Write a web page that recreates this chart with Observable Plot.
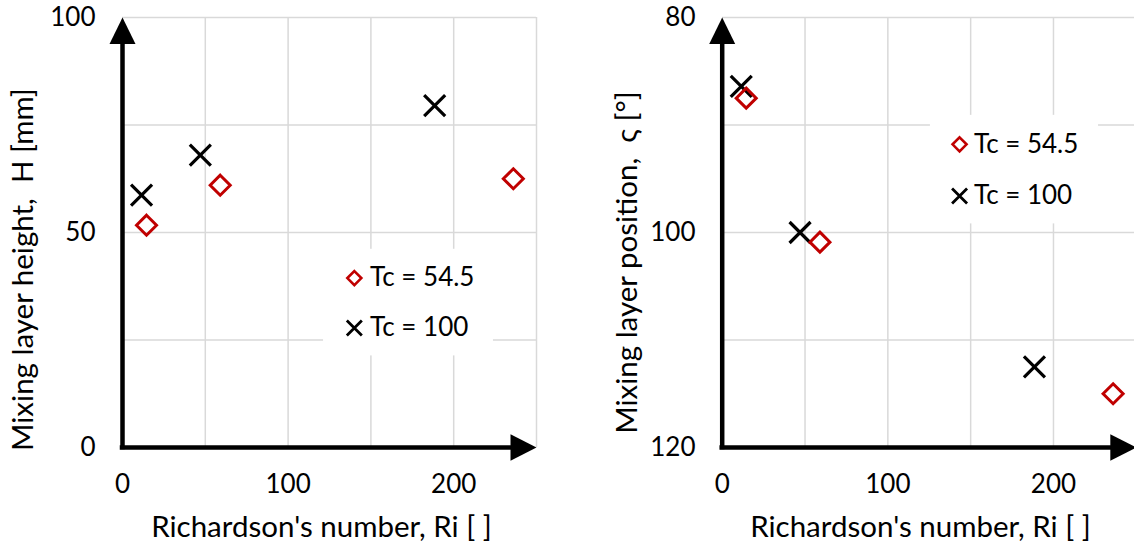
<!DOCTYPE html>
<html>
<head>
<meta charset="utf-8">
<script src="https://cdn.jsdelivr.net/npm/d3@7"></script>
<script src="https://cdn.jsdelivr.net/npm/@observablehq/plot@0.6"></script>
<style>
  html, body { margin: 0; padding: 0; background: white; overflow: hidden; }
  #wrap { display: flex; width: 1134px; height: 547px; }
  #wrap svg { display: block; flex: none; }
</style>
</head>
<body>
<div id="wrap"></div>
<script>
// ---- data ----
const seriesNames = ["Tc = 54.5", "Tc = 100"];
const riTc545 = [14.5, 59, 236];
const riTc100 = [11.5, 47, 188.5];
const heightTc545 = [51.7, 61.0, 62.5];
const heightTc100 = [58.7, 68.0, 79.5];
const positionTc545 = [87.5, 100.9, 115.0];
const positionTc100 = [86.4, 100.0, 112.5];

const xTicks = [0, 100, 200];
const xGrid = [50, 100, 150, 200, 250];
const leftYTicks = [0, 50, 100];
const leftYGrid = [25, 50, 75, 100];
const rightYTicks = [80, 100, 120];
const rightYGrid = [80, 90, 100, 110];

const xTitle = "Richardson's number, Ri [ ]";
const leftYTitle = "Mixing layer height,  H [mm]";
const rightYTitle = "Mixing layer position,  ς [°]";

// ---- styles ----
const RED = "#C00000";
const GRID = "#d9d9d9";
const FONT = "Lato";
const TICK_FS = 26;
const TITLE_FS = 29.5;

// custom symbols
const symDiamond = (h) => ({draw(ctx) { ctx.moveTo(0, -h); ctx.lineTo(h, 0); ctx.lineTo(0, h); ctx.lineTo(-h, 0); ctx.closePath(); }});
const symCross = (h) => ({draw(ctx) { ctx.moveTo(-h, -h); ctx.lineTo(h, h); ctx.moveTo(-h, h); ctx.lineTo(h, -h); }});
const arrowUp = {draw(ctx) { ctx.moveTo(0, 0); ctx.lineTo(13, 26.5); ctx.lineTo(-13, 26.5); ctx.closePath(); }};
const arrowRight = {draw(ctx) { ctx.moveTo(0, 0); ctx.lineTo(-26, -13.3); ctx.lineTo(-26, 13.3); ctx.closePath(); }};

const zip = (xs, ys) => xs.map((x, i) => ({x, y: ys[i]}));

function panel({yDomain, yReverse, yTicks, yGrid, yTop, yShaftEnd, yTitle, yTitleDx, yTitleDy,
                series545, series100, legend, xRange, marginLeft, marginRight}) {
  const yBottom = yDomain[yReverse ? 1 : 0];
  return Plot.plot({
    width: 567,
    height: 547,
    marginLeft, marginRight,
    marginTop: 17,
    marginBottom: 100,
    style: {fontFamily: FONT, fontSize: TICK_FS + "px", color: "black", background: "white", overflow: "hidden"},
    x: {domain: [0, 250], ...(xRange ? {range: xRange} : {})},
    y: {domain: yDomain, reverse: yReverse},
    marks: [
      // gridlines
      Plot.ruleX(xGrid, {stroke: GRID, strokeWidth: 1.5}),
      Plot.ruleY(yGrid, {stroke: GRID, strokeWidth: 1.5}),
      // legend box (covers gridlines)
      Plot.rect([legend.box], {x1: "x1", x2: "x2", y1: "y1", y2: "y2", fill: "white"}),
      // axes tick labels
      Plot.axisX({ticks: xTicks, tickSize: 0, tickPadding: 27, label: null, fontSize: TICK_FS, fill: "black"}),
      Plot.axisY({ticks: yTicks, tickSize: 0, tickPadding: 27, label: null, fontSize: TICK_FS, fill: "black"}),
      // axis lines with arrows
      Plot.ruleY([yBottom], {x1: 0, x2: 240, stroke: "black", strokeWidth: 4.5, strokeLinecap: "square"}),
      Plot.ruleX([0], {y1: yBottom, y2: yShaftEnd, stroke: "black", strokeWidth: 4.5, strokeLinecap: "square"}),
      Plot.dot([{x: 0, y: yTop}], {x: "x", y: "y", symbol: arrowUp, r: 5, fill: "black", stroke: null}),
      Plot.dot([{x: 250, y: yBottom}], {x: "x", y: "y", symbol: arrowRight, r: 5, fill: "black", stroke: null}),
      // data
      Plot.dot(series100, {x: "x", y: "y", symbol: symCross(10.5), r: 5, stroke: "black", strokeWidth: 3.2, fill: "none"}),
      Plot.dot(series545, {x: "x", y: "y", symbol: symDiamond(10), r: 5, stroke: RED, strokeWidth: 3, fill: "none", strokeLinejoin: "miter"}),
      // legend entries
      Plot.dot([legend.e1], {x: "mx", y: "y", symbol: symDiamond(7), r: 5, stroke: RED, strokeWidth: 2.6, fill: "none", strokeLinejoin: "miter"}),
      Plot.dot([legend.e2], {x: "mx", y: "y", symbol: symCross(7.5), r: 5, stroke: "black", strokeWidth: 2.8, fill: "none"}),
      Plot.text([legend.e1, legend.e2], {x: "tx", y: "y", text: "label", textAnchor: "start", fontSize: TICK_FS, fill: "black", lineAnchor: "middle"}),
      // titles
      Plot.text([xTitle], {text: d => d, frameAnchor: "bottom", textAnchor: "middle", dy: 80, dx: -8, fontSize: TITLE_FS, fill: "black", lineAnchor: "middle"}),
      Plot.text([yTitle], {text: d => d, frameAnchor: "left", textAnchor: "middle", rotate: -90, dx: yTitleDx, dy: yTitleDy, fontSize: TITLE_FS, fill: "black", lineAnchor: "middle"})
    ]
  });
}

const left = panel({
  yDomain: [0, 100], yReverse: false, yTicks: leftYTicks, yGrid: leftYGrid,
  yTop: 100, yShaftEnd: 95,
  yTitle: leftYTitle, yTitleDx: -99, yTitleDy: 37,
  series545: zip(riTc545, heightTc545), series100: zip(riTc100, heightTc100),
  legend: {
    box: {x1: 121.4, x2: 224, y1: 21.3, y2: 46.1},
    e1: {mx: 140, tx: 149.5, y: 39.4, label: seriesNames[0]},
    e2: {mx: 140, tx: 149.5, y: 27.8, label: seriesNames[1]}
  },
  marginLeft: 122, marginRight: 31
});

const right = panel({
  yDomain: [80, 120], yReverse: true, yTicks: rightYTicks, yGrid: rightYGrid,
  yTop: 80, yShaftEnd: 82.5,
  yTitle: rightYTitle, yTitleDx: -95, yTitleDy: 30,
  series545: zip(riTc545, positionTc545), series100: zip(riTc100, positionTc100),
  legend: {
    box: {x1: 125.7, x2: 227.2, y1: 89.1, y2: 99.2},
    e1: {mx: 143.3, tx: 152, y: 91.8, label: seriesNames[0]},
    e2: {mx: 143.3, tx: 152, y: 96.6, label: seriesNames[1]}
  },
  xRange: [154.7, 568.8], marginLeft: 155, marginRight: 0
});

document.getElementById("wrap").append(left, right);
</script>
</body>
</html>
